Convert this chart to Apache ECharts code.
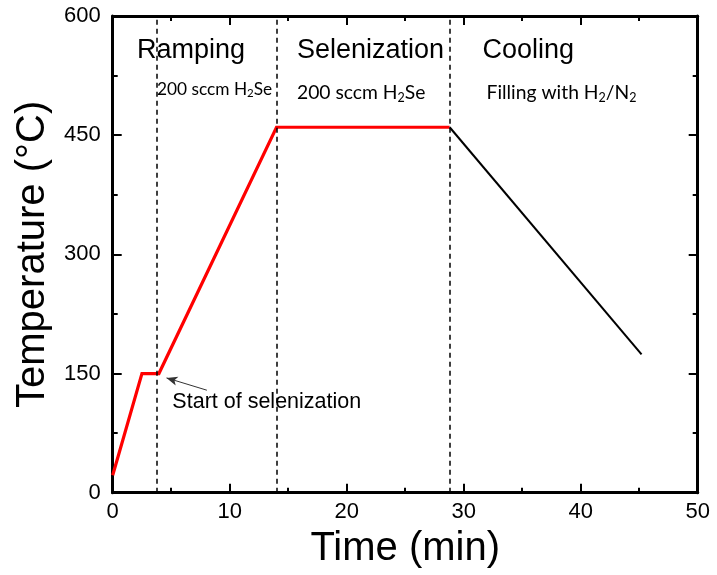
<!DOCTYPE html>
<html>
<head>
<meta charset="utf-8">
<script src="https://cdn.jsdelivr.net/npm/echarts@6/dist/echarts.min.js"></script>
<style>
  html, body { margin: 0; padding: 0; background: #fff; }
  #chart { width: 717px; height: 575px; }
</style>
</head>
<body>
<div id="chart"></div>
<script>
// Temperature profile of the selenization run
const heatingProfile = [[0, 22], [2.5, 150], [3.95, 150], [14.0, 460], [28.8, 460]];
const coolingProfile = [[28.8, 460], [45.2, 174]];

// Stage boundaries (min)
const stageBounds = [3.8, 14.05, 28.8];

// Axis ranges and ticks
const xTicks = { min: 0, max: 50, interval: 10 };
const yTicks = { min: 0, max: 600, interval: 150 };

// Arrow pointing at the start of selenization: [tail, head]
const arrowTail = [8.05, 129];
const arrowHead = [4.6, 144.5];

// Stage titles and gas notes: [x, y, text]
const stageTitles = [
  [2.07, 557, 'Ramping'],
  [15.75, 557, 'Selenization'],
  [31.6, 557, 'Cooling']
];
const gasNotes = [
  [3.78, 508, '{n|200 sccm H}{s|2}{n|Se}'],
  [15.75, 503, '{m|200 sccm H}{t|2}{m|Se}'],
  [31.95, 503, '{m|Filling with H}{t|2}{m|/N}{t|2}']
];
const arrowNote = [5.1, 114.6, 'Start of selenization'];

const chart = echarts.init(document.getElementById('chart'), null, { renderer: 'canvas' });

const axisFont = 'Liberation Sans, Arial, sans-serif';
const noteFont = 'Lato, Carlito, sans-serif';

const frameLine = { show: true, onZero: false, lineStyle: { color: '#000', width: 3 } };
const inTicks = { show: true, inside: true, length: 9, lineStyle: { color: '#000', width: 2 } };
const inMinor = { show: true, splitNumber: 2, length: 5, lineStyle: { color: '#000', width: 2 } };

function textPoint(x, y, fmt, labelStyle) {
  return {
    value: [x, y],
    label: Object.assign({
      show: true, position: 'right', distance: 0, formatter: fmt,
      color: '#000', opacity: 1, textBorderWidth: 0
    }, labelStyle)
  };
}

const noteRich = {
  n: { fontSize: 17.3, fontFamily: noteFont, color: '#000', lineHeight: 20 },
  s: { fontSize: 11.5, fontFamily: noteFont, color: '#000', verticalAlign: 'bottom', lineHeight: 14 },
  m: { fontSize: 19.3, fontFamily: noteFont, color: '#000', lineHeight: 22 },
  t: { fontSize: 12.5, fontFamily: noteFont, color: '#000', verticalAlign: 'bottom', lineHeight: 14 }
};

const annoData = [];
stageTitles.forEach(function (d) {
  annoData.push(textPoint(d[0], d[1], d[2], { fontSize: 27, fontFamily: axisFont }));
});
gasNotes.forEach(function (d) {
  annoData.push(textPoint(d[0], d[1], d[2], { rich: noteRich }));
});
annoData.push(textPoint(arrowNote[0], arrowNote[1], arrowNote[2], { fontSize: 21.5, fontFamily: axisFont }));

chart.setOption({
  animation: false,
  backgroundColor: '#fff',
  grid: { left: 112.7, right: 19.3, top: 16, bottom: 82.3, containLabel: false },
  xAxis: [
    {
      type: 'value', min: xTicks.min, max: xTicks.max, interval: xTicks.interval,
      position: 'bottom',
      name: 'Time (min)', nameLocation: 'middle', nameGap: 36,
      nameTextStyle: { fontSize: 40, fontFamily: axisFont, color: '#000' },
      axisLine: frameLine, axisTick: inTicks, minorTick: inMinor,
      axisLabel: { fontSize: 22, fontFamily: axisFont, color: '#000', margin: 8 },
      splitLine: { show: false }
    },
    {
      type: 'value', min: xTicks.min, max: xTicks.max, interval: xTicks.interval,
      position: 'top',
      axisLine: frameLine, axisTick: inTicks, minorTick: inMinor,
      axisLabel: { show: false }, splitLine: { show: false }
    }
  ],
  yAxis: [
    {
      type: 'value', min: yTicks.min, max: yTicks.max, interval: yTicks.interval,
      position: 'left',
      name: 'Temperature (\u00B0C)', nameLocation: 'middle', nameGap: 58,
      nameTextStyle: { fontSize: 40, fontFamily: axisFont, color: '#000' },
      axisLine: frameLine, axisTick: inTicks, minorTick: inMinor,
      axisLabel: { fontSize: 22, fontFamily: axisFont, color: '#000', margin: 12 },
      splitLine: { show: false }
    },
    {
      type: 'value', min: yTicks.min, max: yTicks.max, interval: yTicks.interval,
      position: 'right',
      axisLine: frameLine, axisTick: inTicks, minorTick: inMinor,
      axisLabel: { show: false }, splitLine: { show: false }
    }
  ],
  series: [
    {
      name: 'heating', type: 'line', data: heatingProfile,
      showSymbol: false, symbol: 'none',
      lineStyle: { color: '#ff0000', width: 3.2, join: 'miter' },
      markLine: {
        silent: true, symbol: 'none', label: { show: false },
        lineStyle: { color: '#000', type: [5, 4], width: 1.5 },
        data: stageBounds.map(function (v) { return { xAxis: v }; })
      },
      z: 3
    },
    {
      name: 'cooling', type: 'line', data: coolingProfile,
      showSymbol: false, symbol: 'none',
      lineStyle: { color: '#000', width: 2 },
      markLine: {
        silent: true, label: { show: false },
        symbol: ['none', 'arrow'], symbolSize: [7, 11],
        itemStyle: { color: '#000' },
        lineStyle: { color: '#333', type: 'solid', width: 1 },
        data: [[{ coord: arrowTail }, { coord: arrowHead }]]
      },
      z: 3
    },
    {
      name: 'notes', type: 'scatter', symbolSize: 0, silent: true,
      data: annoData, z: 5
    }
  ]
});
</script>
</body>
</html>
